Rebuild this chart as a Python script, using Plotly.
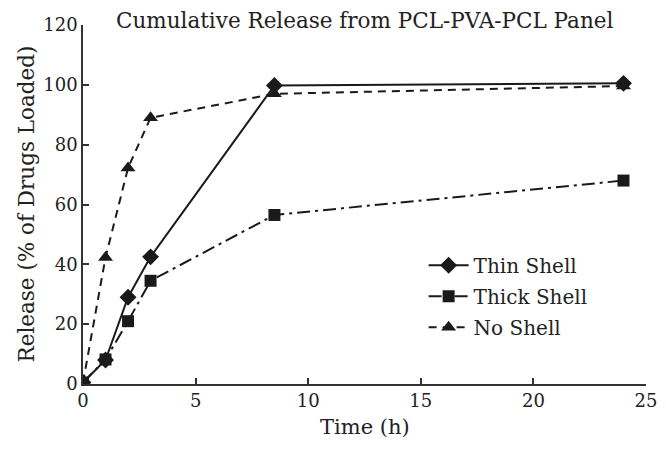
import plotly.graph_objects as go

time_h = [0, 1, 2, 3, 8.5, 24]
thin_shell = [0.5, 8, 29, 42.5, 99.8, 100.5]
thick_shell = [0.5, 8.2, 21, 34.5, 56.5, 68]
no_shell = [0.5, 42.3, 72.2, 89, 97, 99.6]

FONT = "DejaVu Serif"
INK = "#1a1a1a"

fig = go.Figure()
fig.add_trace(go.Scatter(x=time_h, y=thin_shell, name="Thin Shell", mode="lines+markers",
                         legendgroup="a",
                         line=dict(color=INK, width=2, dash="solid"),
                         marker=dict(symbol="diamond", size=13, color=INK)))
fig.add_trace(go.Scatter(x=time_h, y=thick_shell, name="Thick Shell", mode="lines+markers",
                         legendgroup="b",
                         line=dict(color=INK, width=2, dash="13px,5px,3px,5px"),
                         marker=dict(symbol="square", size=12, color=INK)))
fig.add_trace(go.Scatter(x=time_h, y=no_shell, name="No Shell", mode="lines+markers",
                         legendgroup="c",
                         line=dict(color=INK, width=2, dash="8px,6px"),
                         marker=dict(symbol="triangle-up", size=13, color=INK)))

fig.update_layout(
    width=650, height=434,
    margin=dict(l=75, r=12, t=17, b=57.5, autoexpand=False),
    paper_bgcolor="white", plot_bgcolor="white",
    font=dict(family=FONT, size=18, color="#222"),
    showlegend=True,
    legend=dict(x=0.605, y=0.385, xanchor="left", yanchor="top", bgcolor="rgba(0,0,0,0)",
                font=dict(size=20), tracegroupgap=2, itemwidth=40, traceorder="grouped"),
    xaxis=dict(range=[0, 25], tickvals=[0, 5, 10, 15, 20, 25], showgrid=False, zeroline=False,
               showline=True, linecolor="#333", linewidth=1.5, ticks="inside", ticklen=6,
               tickcolor="#333", tickwidth=1.5, automargin=False, ticklabeloverflow="allow"),
    yaxis=dict(range=[0, 120], tickvals=[0, 20, 40, 60, 80, 100, 120], showgrid=False, zeroline=False,
               showline=True, linecolor="#333", linewidth=1.5, ticks="inside", ticklen=6,
               tickcolor="#333", tickwidth=1.5, automargin=False, ticklabeloverflow="allow"),
    annotations=[
        dict(text="Cumulative Release from PCL-PVA-PCL Panel", xref="paper", yref="paper",
             x=0.5, y=1, yshift=5, xanchor="center", yanchor="middle", showarrow=False,
             font=dict(size=21.5)),
        dict(text="Time (h)", xref="paper", yref="paper", x=0.5, y=0, yshift=-43,
             xanchor="center", yanchor="middle", showarrow=False, borderpad=0,
             font=dict(size=21)),
        dict(text="Release (% of Drugs Loaded)", xref="paper", yref="paper", x=0, y=0.5,
             xshift=-57, xanchor="center", yanchor="middle", textangle=-90, showarrow=False,
             borderpad=0, font=dict(size=21.5)),
    ],
)

fig.write_html("out.html")
